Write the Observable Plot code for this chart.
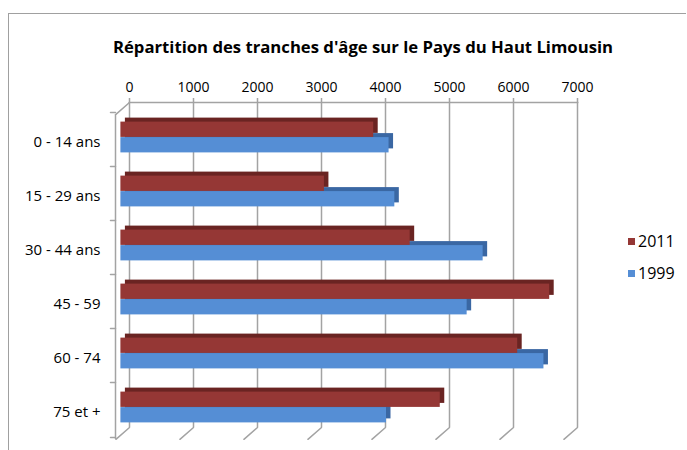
<!DOCTYPE html>
<html>
<head>
<meta charset="utf-8">
<script src="https://cdn.jsdelivr.net/npm/d3@7"></script>
<script src="https://cdn.jsdelivr.net/npm/@observablehq/plot@0.6"></script>
<style>
  html, body { margin: 0; padding: 0; background: #fff; }
  #wrap { position: relative; width: 687px; height: 450px; overflow: hidden; font-family: "Open Sans", sans-serif; }
  #frame { position: absolute; left: 8px; top: 13px; width: 678px; height: 460px; border: 1.5px solid #a0a0a0; border-right: none; box-sizing: border-box; }
  #title { position: absolute; left: 0; width: 726px; top: 35px; text-align: center; font-weight: bold; font-size: 16.7px; color: #000; white-space: nowrap; }
  #legend { position: absolute; left: 628px; top: 228px; font-size: 16px; color: #000; }
  #legend .item { display: flex; align-items: center; height: 26px; margin-bottom: 6px; }
  #legend .sw { width: 7px; height: 7px; margin-right: 3px; }
  #chart { position: absolute; left: 0; top: 0; }
</style>
</head>
<body>
<div id="wrap">
  <div id="frame"></div>
  <div id="title">Répartition des tranches d'âge sur le Pays du Haut Limousin</div>
  <div id="chart"></div>
  <div id="legend"></div>
</div>
<script>
const categories = ["0 - 14 ans", "15 - 29 ans", "30 - 44 ans", "45 - 59", "60 - 74", "75 et +"];
const values2011 = [3950, 3180, 4520, 6700, 6200, 4990];
const values1999 = [4190, 4280, 5660, 5410, 6610, 4150];
const seriesNames = ["2011", "1999"];
const seriesColors = ["#953735", "#558ED5"];
const seriesShade = ["#6A2422", "#3A67A3"];
const xTicks = [0, 1000, 2000, 3000, 4000, 5000, 6000, 7000];

const d2011 = categories.map((c, i) => ({cat: c, value: values2011[i]}));
const d1999 = categories.map((c, i) => ({cat: c, value: values1999[i]}));

const depthDx = -8.6;
const sideDx = 4.5, sideDy = -4;
const half = 27.1, barH = 15.5;

const grid = "#a3a3a3";
const line = {draw(ctx, l) { ctx.moveTo(0, 0); ctx.lineTo(0, -l); }};

const chart = Plot.plot({
  width: 687,
  height: 450,
  marginLeft: 129,
  marginRight: 110,
  marginTop: 102,
  marginBottom: 23,
  style: {fontFamily: "'Open Sans', sans-serif", fontSize: "14px", color: "#000", background: "transparent"},
  x: {domain: [0, 7000], ticks: xTicks, label: null},
  y: {domain: categories, range: [109, 434], padding: 0, label: null},
  marks: [
    Plot.frame({anchor: "top", stroke: grid, strokeWidth: 1.5}),
    Plot.ruleX(xTicks, {stroke: grid, strokeWidth: 1.5}),
    Plot.vector(xTicks, {x: d => d, frameAnchor: "bottom", length: 18, rotate: 229, anchor: "start", stroke: grid, strokeWidth: 1.5, shape: line}),
    Plot.vector([0], {x: d => d, frameAnchor: "top", length: 18, rotate: 229, anchor: "start", stroke: grid, strokeWidth: 1.5, shape: line}),
    Plot.ruleX([0], {dx: -14, dy: 12, stroke: grid, strokeWidth: 1.5}),
    Plot.vector(categories, {y: d => d, frameAnchor: "left", dx: -14, dy: -25, length: 5, rotate: 270, anchor: "start", stroke: grid, strokeWidth: 1.5, shape: line}),
    Plot.vector(categories.slice(-1), {y: d => d, frameAnchor: "left", dx: -14, dy: 30, length: 5, rotate: 270, anchor: "start", stroke: grid, strokeWidth: 1.5, shape: line}),
    Plot.axisX({anchor: "top", ticks: xTicks, tickSize: 5, tickPadding: 6, stroke: grid, strokeWidth: 1.5, tickFormat: d => String(d), fontSize: "14px", label: null}),
    Plot.axisY({anchor: "left", tickSize: 0, tickPadding: 29, dy: 5, fontSize: "15px", label: null}),
    Plot.barX(d1999, {y: "cat", x: "value", fill: seriesShade[1], insetTop: half, insetBottom: half - barH, dx: depthDx + sideDx, dy: sideDy}),
    Plot.barX(d1999, {y: "cat", x: "value", fill: seriesColors[1], insetTop: half, insetBottom: half - barH, dx: depthDx}),
    Plot.barX(d2011, {y: "cat", x: "value", fill: seriesShade[0], insetTop: half - barH, insetBottom: half, dx: depthDx + sideDx, dy: sideDy}),
    Plot.barX(d2011, {y: "cat", x: "value", fill: seriesColors[0], insetTop: half - barH, insetBottom: half, dx: depthDx})
  ]
});
document.getElementById("chart").appendChild(chart);

const legend = document.getElementById("legend");
seriesNames.forEach((name, i) => {
  const item = document.createElement("div");
  item.className = "item";
  const sw = document.createElement("span");
  sw.className = "sw";
  sw.style.background = seriesColors[i];
  const label = document.createElement("span");
  label.textContent = name;
  item.appendChild(sw);
  item.appendChild(label);
  legend.appendChild(item);
});
</script>
</body>
</html>
